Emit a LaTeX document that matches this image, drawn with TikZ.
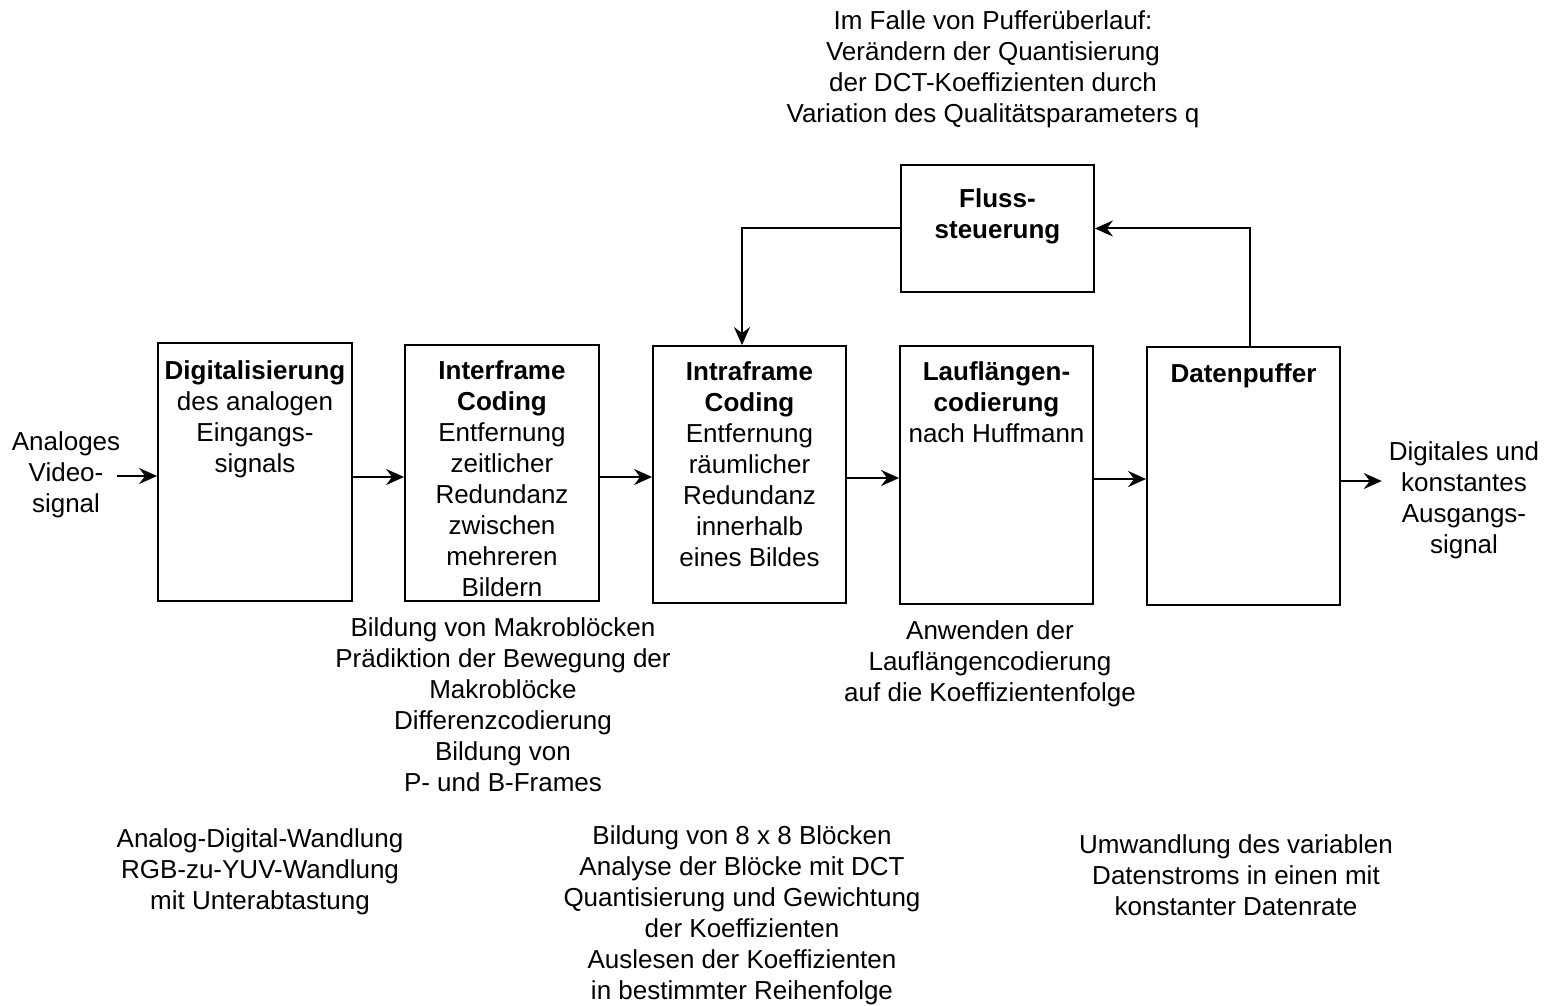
\documentclass[tikz,border=0pt]{standalone}
\usepackage{fontspec}
\setmainfont{Liberation Sans}
\usetikzlibrary{arrows.meta}
\begin{document}
\begin{tikzpicture}[x=0.5pt,y=-0.5pt,
  every node/.style={font=\fontsize{13}{15.5}\selectfont},
  txt/.style={align=center},
  blk/.style={draw,line width=0.9pt,inner sep=0pt},
  arr/.style={line width=1pt,-{Stealth[length=9pt,width=8pt,inset=3pt]}}]
\useasboundingbox (0,0) rectangle (1549,1006);
% boxes
\node[blk,minimum width=97pt,minimum height=129pt] (b1) at (255,472) {};
\node[blk,minimum width=97pt,minimum height=128pt] (b2) at (502,473) {};
\node[blk,minimum width=96.5pt,minimum height=128.5pt] (b3) at (749.5,474.5) {};
\node[blk,minimum width=96.5pt,minimum height=129pt] (b4) at (996.5,475) {};
\node[blk,minimum width=96.5pt,minimum height=129pt] (b5) at (1243.5,476) {};
\node[blk,minimum width=96.5pt,minimum height=63.5pt] (fl) at (997.5,228.5) {};
% box texts
\node[txt] (t1) at (255,419.5) {\textbf{Digitalisierung}\\des analogen\\Eingangs-\\signals};
\node[txt] (t2) at (502,478.5) {\textbf{Interframe}\\\textbf{Coding}\\Entfernung\\zeitlicher\\Redundanz\\zwischen\\mehreren\\Bildern};
\node[txt] (t3) at (749.5,464) {\textbf{Intraframe}\\\textbf{Coding}\\Entfernung\\räumlicher\\Redundanz\\innerhalb\\eines Bildes};
\node[txt] (t4) at (996.5,402.5) {\textbf{Lauflängen-}\\\textbf{codierung}\\nach Huffmann};
\node[txt] (t5) at (1243.5,376) {\textbf{Datenpuffer}};
\node[txt] (t6) at (997.5,216.5) {\textbf{Fluss-}\\\textbf{steuerung}};
% side labels
\node[txt] (in) at (66,475) {Analoges\\Video-\\signal};
\node[txt] (out) at (1464,500) {Digitales und\\konstantes\\Ausgangs-\\signal};
% annotations
\node[txt] (top) at (993,69.5) {Im Falle von Pufferüberlauf:\\Verändern der Quantisierung\\der DCT-Koeffizienten durch\\Variation des Qualitätsparameters q};
\node[txt] (a2) at (503,705) {Bildung von Makroblöcken\\Prädiktion der Bewegung der\\Makroblöcke\\Differenzcodierung\\Bildung von\\P- und B-Frames};
\node[txt] (a4) at (990,663.5) {Anwenden der\\Lauflängencodierung\\auf die Koeffizientenfolge};
\node[txt] (a1) at (260,872) {Analog-Digital-Wandlung\\RGB-zu-YUV-Wandlung\\mit Unterabtastung};
\node[txt] (a3) at (742,915) {Bildung von 8 x 8 Blöcken\\Analyse der Blöcke mit DCT\\Quantisierung und Gewichtung\\der Koeffizienten\\Auslesen der Koeffizienten\\in bestimmter Reihenfolge};
\node[txt] (a5) at (1236,875) {Umwandlung des variablen\\Datenstroms in einen mit\\konstanter Datenrate};
% connectors
\draw[arr] ([xshift=-5pt]in.east |- 0,476) -- (b1.west |- 0,476);
\draw[arr] (b1.east |- 0,477) -- (b2.west |- 0,477);
\draw[arr] (b2.east |- 0,477) -- (b3.west |- 0,477);
\draw[arr] (b3.east |- 0,478) -- (b4.west |- 0,478);
\draw[arr] (b4.east |- 0,479) -- (b5.west |- 0,479);
\draw[arr] (b5.east |- 0,481) -- (out.west |- 0,481);
\draw[arr] ([xshift=3.25pt]b5.north) |- (fl.east);
\draw[arr] (fl.west) -| ([xshift=-3.75pt]b3.north);
\end{tikzpicture}
\end{document}
